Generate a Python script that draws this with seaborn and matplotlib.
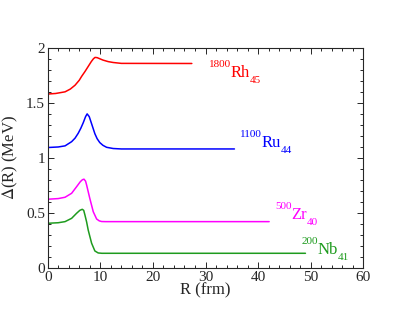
import numpy as np
import pandas as pd
import seaborn as sns
import matplotlib.pyplot as plt
from matplotlib.ticker import MultipleLocator, FormatStrFormatter
from matplotlib.transforms import offset_copy

# values
rh_r = [0, 1.5, 3.3, 4.3, 5.2, 6.0, 6.45, 7.1, 7.7, 8.3, 8.7, 9.0, 9.4, 10.0, 10.5, 11.5, 12.45, 14, 27.4]
rh_d = [1.580, 1.585, 1.600, 1.625, 1.660, 1.705, 1.740, 1.785, 1.830, 1.875, 1.900, 1.912, 1.910,
        1.898, 1.888, 1.874, 1.866, 1.858, 1.857]

ru_r = [0, 2, 3.3, 4.55, 5.2, 5.8, 6.3, 6.76, 7.2, 7.5, 7.9, 8.35, 8.97, 9.4, 9.9, 10.5, 11.2, 12.45, 14, 35.5]
ru_d = [1.095, 1.100, 1.110, 1.148, 1.180, 1.224, 1.270, 1.320, 1.375, 1.400, 1.375, 1.310, 1.220,
        1.175, 1.140, 1.115, 1.097, 1.086, 1.082, 1.082]

zr_r = [0, 2, 3.3, 4.55, 5.5, 6.2, 6.6, 6.9, 7.2, 7.4, 8.0, 8.66, 9.3, 9.8, 10.25, 11, 42.1]
zr_d = [0.626, 0.632, 0.644, 0.680, 0.740, 0.785, 0.803, 0.808, 0.790, 0.755, 0.635, 0.513, 0.447,
        0.430, 0.424, 0.423, 0.423]

nb_r = [0, 2, 3.3, 4.55, 5.5, 6.1, 6.57, 6.85, 7.08, 7.4, 7.7, 8.35, 8.97, 9.6, 10.3, 11, 49.0]
nb_d = [0.408, 0.413, 0.423, 0.453, 0.499, 0.525, 0.535, 0.525, 0.483, 0.420, 0.347, 0.227, 0.157,
        0.139, 0.136, 0.136, 0.136]

names = ['Rh', 'Ru', 'Zr', 'Nb']
mass = ['1800', '1100', '500', '200']
charge = ['45', '44', '40', '41']
label_pos = [(30.6, 1.732), (36.5, 1.097), (43.2, 0.447), (48.2, 0.13)]
palette = {'Rh': '#ff0000', 'Ru': '#0000ff', 'Zr': '#ff00ff', 'Nb': '#1e9b1e'}

frames = []
for n, r, d in zip(names, [rh_r, ru_r, zr_r, nb_r], [rh_d, ru_d, zr_d, nb_d]):
    frames.append(pd.DataFrame({'R': r, 'D': d, 'nucleus': n}))
df = pd.concat(frames, ignore_index=True)

sns.set_style('ticks')
plt.rcParams['font.family'] = ['Liberation Serif', 'DejaVu Serif']
plt.rcParams['mathtext.fontset'] = 'stix'

fig = plt.figure(figsize=(4.09, 3.16), dpi=100)
ax = fig.add_axes([0.1166, 0.151, 0.7717, 0.698])

sns.lineplot(data=df, x='R', y='D', hue='nucleus', palette=palette, sort=False,
             estimator=None, linewidth=1.1, legend=False, ax=ax)

ax.set_xlim(0, 60)
ax.set_ylim(0, 2)
ax.xaxis.set_major_locator(MultipleLocator(10))
ax.xaxis.set_minor_locator(MultipleLocator(2))
ax.yaxis.set_major_locator(MultipleLocator(0.5))
ax.yaxis.set_minor_locator(MultipleLocator(0.1))
ax.yaxis.set_major_formatter(FormatStrFormatter('%g'))
ax.tick_params(which='both', direction='in', top=True, right=True, labelsize=11, width=0.7, pad=2)
ax.tick_params(which='major', length=4)
ax.tick_params(which='minor', length=2.2)
for s in ax.spines.values():
    s.set_linewidth(0.8)
    s.set_visible(True)

ax.set_xlabel('R (frm)', fontsize=12, labelpad=-1)
ax.set_ylabel(r'$\Delta$(R) (MeV)', fontsize=12, labelpad=4)

# nucleus labels: small mass number up, symbol, small charge down
fig.canvas.draw()
renderer = fig.canvas.get_renderer()
for n, a, z, (px, py) in zip(names, mass, charge, label_pos):
    dx = 0.0
    for txt, size, dy in [(a, 8, 7.5), (n, 12, 0), (z, 8, -4)]:
        tr = offset_copy(ax.transData, fig=fig, x=dx, y=dy, units='points')
        t = ax.text(px, py, txt, color=palette[n], fontsize=size, va='baseline', ha='left', transform=tr)
        dx += t.get_window_extent(renderer).width * 72.0 / fig.dpi

fig.savefig('out.png', dpi=100)
